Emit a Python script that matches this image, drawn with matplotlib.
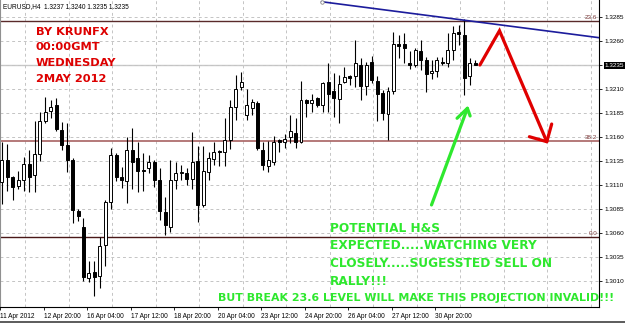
import numpy as np
import matplotlib.pyplot as plt
from matplotlib.transforms import blended_transform_factory

# EURUSD H4 candles, 11 Apr 2012 -> 2 May 2012 00:00
open_ = [1.3113, 1.3136, 1.3118, 1.3109, 1.3115, 1.3132, 1.3120, 1.3142, 1.3176, 1.3187,
         1.3193, 1.3167, 1.3151, 1.3136, 1.3083, 1.3066, 1.3013, 1.3019, 1.3015, 1.3047,
         1.3092, 1.3141, 1.3118, 1.3114, 1.3146, 1.3138, 1.3125, 1.3127, 1.3134, 1.3115,
         1.3082, 1.3066, 1.3115, 1.3122, 1.3122, 1.3116, 1.3135, 1.3089, 1.3123, 1.3137,
         1.3145, 1.3144, 1.3157, 1.3191, 1.3212, 1.3183, 1.3190, 1.3195, 1.3146, 1.3129,
         1.3134, 1.3157, 1.3155, 1.3160, 1.3164, 1.3155, 1.3198, 1.3195, 1.3200, 1.3193,
         1.3217, 1.3208, 1.3199, 1.3217, 1.3223, 1.3223, 1.3235, 1.3213, 1.3238, 1.3218,
         1.3206, 1.3184, 1.3208, 1.3257, 1.3257, 1.3237, 1.3235, 1.3249, 1.3240, 1.3226,
         1.3228, 1.3238, 1.3237, 1.3250, 1.3269, 1.3266, 1.3223, 1.3237]
high = [1.3155, 1.3152, 1.3119, 1.3124, 1.3139, 1.3146, 1.3176, 1.3186, 1.3201, 1.3198,
        1.3200, 1.3175, 1.3174, 1.3138, 1.3085, 1.3075, 1.3030, 1.3030, 1.3055, 1.3094,
        1.3148, 1.3143, 1.3128, 1.3160, 1.3169, 1.3155, 1.3143, 1.3141, 1.3136, 1.3127,
        1.3097, 1.3136, 1.3134, 1.3130, 1.3127, 1.3165, 1.3150, 1.3150, 1.3144, 1.3155,
        1.3146, 1.3179, 1.3198, 1.3224, 1.3227, 1.3210, 1.3199, 1.3197, 1.3155, 1.3156,
        1.3161, 1.3158, 1.3163, 1.3183, 1.3179, 1.3218, 1.3199, 1.3205, 1.3201, 1.3217,
        1.3237, 1.3226, 1.3224, 1.3233, 1.3224, 1.3261, 1.3242, 1.3238, 1.3244, 1.3223,
        1.3209, 1.3212, 1.3269, 1.3266, 1.3268, 1.3249, 1.3252, 1.3261, 1.3243, 1.3240,
        1.3243, 1.3243, 1.3268, 1.3275, 1.3276, 1.3283, 1.3242, 1.3240]
low = [1.3090, 1.3103, 1.3094, 1.3105, 1.3103, 1.3102, 1.3102, 1.3135, 1.3174, 1.3180,
       1.3166, 1.3146, 1.3123, 1.3070, 1.3072, 1.3010, 1.3009, 1.2994, 1.3002, 1.3025,
       1.3085, 1.3114, 1.3107, 1.3091, 1.3105, 1.3102, 1.3103, 1.3122, 1.3108, 1.3073,
       1.3058, 1.3061, 1.3106, 1.3115, 1.3110, 1.3106, 1.3071, 1.3087, 1.3115, 1.3131,
       1.3129, 1.3129, 1.3147, 1.3177, 1.3209, 1.3177, 1.3183, 1.3146, 1.3125, 1.3123,
       1.3131, 1.3144, 1.3148, 1.3153, 1.3148, 1.3153, 1.3181, 1.3186, 1.3191, 1.3186,
       1.3186, 1.3181, 1.3174, 1.3216, 1.3214, 1.3212, 1.3198, 1.3203, 1.3216, 1.3176,
       1.3177, 1.3157, 1.3205, 1.3242, 1.3237, 1.3231, 1.3233, 1.3230, 1.3207, 1.3220,
       1.3222, 1.3235, 1.3233, 1.3240, 1.3256, 1.3203, 1.3214, 1.3235]
close = [1.3136, 1.3118, 1.3108, 1.3115, 1.3132, 1.3118, 1.3142, 1.3176, 1.3186, 1.3191,
         1.3168, 1.3151, 1.3136, 1.3084, 1.3077, 1.3014, 1.3018, 1.3014, 1.3046, 1.3092,
         1.3141, 1.3118, 1.3115, 1.3146, 1.3134, 1.3124, 1.3124, 1.3134, 1.3115, 1.3083,
         1.3068, 1.3115, 1.3122, 1.3123, 1.3116, 1.3134, 1.3089, 1.3124, 1.3138, 1.3144,
         1.3144, 1.3157, 1.3191, 1.3210, 1.3217, 1.3193, 1.3196, 1.3148, 1.3130, 1.3136,
         1.3155, 1.3154, 1.3158, 1.3166, 1.3155, 1.3198, 1.3195, 1.3198, 1.3193, 1.3216,
         1.3205, 1.3200, 1.3215, 1.3222, 1.3221, 1.3237, 1.3213, 1.3235, 1.3219, 1.3205,
         1.3185, 1.3208, 1.3257, 1.3255, 1.3252, 1.3235, 1.3250, 1.3240, 1.3225, 1.3228,
         1.3240, 1.3237, 1.3250, 1.3268, 1.3267, 1.3221, 1.3237, 1.3235]

date_labels = ['11 Apr 2012', '12 Apr 20:00', '16 Apr 04:00', '17 Apr 12:00',
               '18 Apr 20:00', '20 Apr 04:00', '23 Apr 12:00', '24 Apr 20:00',
               '26 Apr 04:00', '27 Apr 12:00', '30 Apr 20:00']
price_ticks = [1.3285, 1.3260, 1.3235, 1.3210, 1.3185, 1.3160,
               1.3135, 1.3110, 1.3085, 1.3060, 1.3035, 1.3010]
last_price = 1.3235

fib_levels = [1.3281, 1.31555, 1.30555]
fib_names = ['23.6', '38.2', '0.0']
fib_colors = ['#5a2a2a', '#a86262', '#4a1818']

# drawn objects (bar index, price)
trend_x = [58.8, 110.0]
trend_y = [1.33006, 1.32630]
red_x = [87.9, 91.5, 100.2]
red_y = [1.32347, 1.32704, 1.31548]
red_head_x = [97.0, 100.2, 101.1]
red_head_y = [1.31600, 1.31548, 1.31732]
green_x = [79.0, 85.6]
green_y = [1.30889, 1.31896]
green_head_x = [83.7, 85.6, 86.1]
green_head_y = [1.31792, 1.31896, 1.31816]

fig = plt.figure(figsize=(6.25, 3.23), dpi=100)
ax = fig.add_axes([0, 16 / 323, 599 / 625, 307 / 323])

x = np.arange(len(open_))
o = np.array(open_)
c = np.array(close)
up = c > o

# wicks then bodies
ax.vlines(x, low, high, color='black', lw=0.8, zorder=3)
body_h = np.where(np.abs(c - o) < 0.00005, 0.00005, c - o)
ax.bar(x[up], body_h[up], bottom=o[up], width=0.55, color='white',
       edgecolor='black', linewidth=0.7, zorder=4)
ax.bar(x[~up], body_h[~up], bottom=o[~up], width=0.55, color='black',
       edgecolor='black', linewidth=0.7, zorder=4)

ax.set_xlim(-0.31, 109.8)
ax.set_ylim(1.29826, 1.33024)

# grid
ax.set_yticks(price_ticks)
ax.grid(axis='y', color='#c4c4c4', linestyle=(0, (3, 3)), lw=0.7, zorder=0)
for k in range(14):
    ax.axvline(4.3 + 8 * k, color='#c4c4c4', linestyle=(0, (3, 3)), lw=0.7, zorder=0)

# bid line and fibo levels
ax.axhline(last_price, color='#c8c8c8', lw=1.0, zorder=1)
for lvl, name, col in zip(fib_levels, fib_names, fib_colors):
    ax.axhline(lvl, color=col, lw=1.2 if name == '38.2' else 1.0, zorder=2)
    ax.text(0.997, lvl + 0.0001, name, transform=blended_transform_factory(ax.transAxes, ax.transData),
            ha='right', va='bottom', fontsize=4.5, color='#7a3a3a', family='Liberation Sans')

# trend line
ax.plot(trend_x, trend_y, color='#1c1c9c', lw=1.2, zorder=5)
ax.plot(trend_x[0], trend_y[0], 'o', ms=2.5, mfc='white', mec='#888888', mew=0.6, zorder=6)

# arrows
ax.plot(red_x, red_y, color='#e00000', lw=2.3, solid_capstyle='round',
        solid_joinstyle='miter', zorder=6, clip_on=False)
ax.plot(red_head_x, red_head_y, color='#e00000', lw=2.3, solid_capstyle='round', zorder=6)
ax.plot(green_x, green_y, color='#2ee82e', lw=2.3, solid_capstyle='round', zorder=6)
ax.plot(green_head_x, green_head_y, color='#2ee82e', lw=2.3, solid_capstyle='round', zorder=6)

# axes styling
ax.yaxis.tick_right()
ax.set_yticklabels([f'{p:.4f}' for p in price_ticks], fontsize=4.6, family='Liberation Sans')
ax.tick_params(axis='y', length=2.5, width=0.6, pad=1.5)
ax.set_xticks([8 * k - 0.35 for k in range(len(date_labels))])
ax.set_xticklabels(date_labels, fontsize=4.7, family='Liberation Sans', ha='left')
ax.tick_params(axis='x', length=2.5, width=0.6, pad=1.5)
for lab in ax.get_yticklabels():
    if lab.get_text() == f'{last_price:.4f}':
        lab.set_color('white')
        lab.set_bbox(dict(facecolor='black', edgecolor='none', pad=0.6))
ax.spines['top'].set_visible(False)
ax.spines['left'].set_color('#909090')
for side in ['right', 'bottom']:
    ax.spines[side].set_linewidth(0.8)

def px(xp, yp):
    return xp / 599, 1 - yp / 307

ax.text(*px(3, 7), 'EURUSD,H4  1.3237 1.3240 1.3235 1.3235', transform=ax.transAxes,
        fontsize=4.7, family='Liberation Sans', va='center', ha='left')

red_lines = ['BY KRUNFX', '00:00GMT', 'WEDNESDAY', '2MAY 2012']
for i, t in enumerate(red_lines):
    ax.text(*px(36, 32 + 15.5 * i), t, transform=ax.transAxes, color='#dd0000',
            fontsize=8.2, fontweight='bold', family='DejaVu Sans', va='center', ha='left')

green_lines = ['POTENTIAL H&S', 'EXPECTED.....WATCHING VERY',
               'CLOSELY.....SUGESSTED SELL ON', 'RALLY!!!']
for i, t in enumerate(green_lines):
    ax.text(*px(330, 228 + 17.7 * i), t, transform=ax.transAxes, color='#2ee82e',
            fontsize=8.7, fontweight='bold', family='DejaVu Sans', va='center', ha='left')
ax.text(*px(218, 298), 'BUT BREAK 23.6 LEVEL WILL MAKE THIS PROJECTION INVALID!!!',
        transform=ax.transAxes, color='#2ee82e', fontsize=7.95, fontweight='bold',
        family='DejaVu Sans', va='center', ha='left', clip_on=False, zorder=7)

# window frame at the bottom edge
fig.add_artist(plt.Line2D([0, 1], [0.004, 0.004], transform=fig.transFigure,
                          color='#404040', lw=1.2))

fig.savefig('out.png', dpi=100)
